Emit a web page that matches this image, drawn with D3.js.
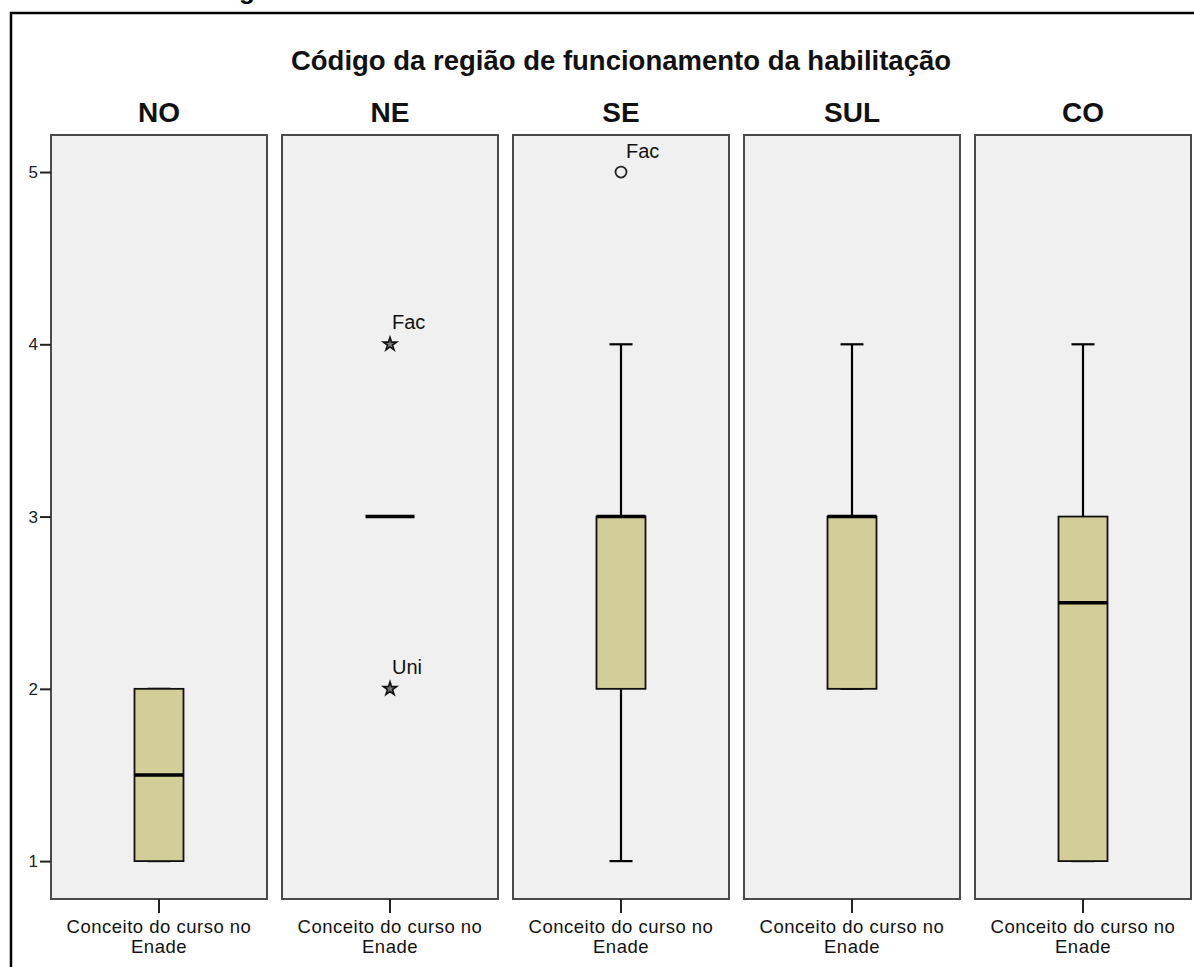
<!DOCTYPE html>
<html>
<head>
<meta charset="utf-8">
<script src="https://cdn.jsdelivr.net/npm/d3@7/dist/d3.min.js"></script>
<style>
  html, body { margin: 0; padding: 0; background: #fff; }
  svg { display: block; }
  text { font-family: "Liberation Sans", Arial, sans-serif; }
</style>
</head>
<body>
<svg id="chart" width="1194" height="967"></svg>
<script>
// Regions (panels) and the variable plotted in each
const regions = ["NO", "NE", "SE", "SUL", "CO"];
const variableLabel = ["Conceito do curso no", "Enade"];
const yTicks = [1, 2, 3, 4, 5];

// Five-number summaries per region
const whiskerLow  = [1, 3, 1, 2, 1];
const quartile1   = [1, 3, 2, 2, 1];
const medians     = [1.5, 3, 3, 3, 2.5];
const quartile3   = [2, 3, 3, 3, 3];
const whiskerHigh = [2, 3, 4, 4, 4];

// Outliers: region index, value, kind ("circle" = outlier, "star" = extreme), label
const outlierRegion = [1, 1, 2];
const outlierValue  = [4, 2, 5];
const outlierKind   = ["star", "star", "circle"];
const outlierLabel  = ["Fac", "Uni", "Fac"];

const svg = d3.select("#chart");

// Outer frame (extends past the right and bottom edges)
svg.append("rect")
  .attr("x", 11).attr("y", 13)
  .attr("width", 1200).attr("height", 1000)
  .attr("fill", "#fff").attr("stroke", "#000").attr("stroke-width", 2.5);

// Heading above the frame, mostly outside the drawing area
svg.append("text")
  .attr("x", 247).attr("y", -1)
  .attr("text-anchor", "middle")
  .attr("font-size", 26).attr("font-weight", "bold")
  .text("g");

const panelTop = 135, panelBottom = 899, panelW = 216, panelStep = 231, panelLeft0 = 51;

const y = d3.scaleLinear()
  .domain([0.78, 5.215])
  .range([panelBottom, panelTop]);

const xPanel = d3.scalePoint()
  .domain(regions)
  .range([panelLeft0, panelLeft0 + panelStep * (regions.length - 1)]);

// Overall title
svg.append("text")
  .attr("x", 621).attr("y", 70)
  .attr("text-anchor", "middle")
  .attr("font-size", 27.5).attr("font-weight", "bold")
  .attr("fill", "#111")
  .text("Código da região de funcionamento da habilitação");

const fill = "#d3ce97";
const boxW = 49, capW = 23;

regions.forEach((r, i) => {
  const x0 = xPanel(r);
  const w = panelW;
  const g = svg.append("g").attr("transform", `translate(${x0},0)`);
  const cx = w / 2;

  // Panel header
  svg.append("text")
    .attr("x", x0 + cx).attr("y", 122)
    .attr("text-anchor", "middle")
    .attr("font-size", 28).attr("font-weight", "bold")
    .attr("fill", "#111")
    .text(r);

  // Panel background
  g.append("rect")
    .attr("x", 0).attr("y", panelTop)
    .attr("width", w).attr("height", panelBottom - panelTop)
    .attr("fill", "#f0f0f0")
    .attr("stroke", "#4a4a4a").attr("stroke-width", 2);

  // Category axis at the bottom
  const xCat = d3.scaleBand().domain([variableLabel.join(" ")]).range([0, w]);
  const axB = g.append("g")
    .attr("transform", `translate(0,${panelBottom})`)
    .call(d3.axisBottom(xCat).tickSize(14).tickFormat(""));
  axB.select(".domain").remove();
  axB.selectAll(".tick line").attr("stroke", "#222").attr("stroke-width", 2);
  const lab = g.append("text")
    .attr("x", cx).attr("y", 933)
    .attr("text-anchor", "middle")
    .attr("font-size", 18.5).attr("letter-spacing", 0.5).attr("fill", "#111");
  variableLabel.forEach((t, k) => {
    lab.append("tspan").attr("x", cx).attr("dy", k === 0 ? 0 : 20).text(t);
  });

  // Whiskers
  const wl = whiskerLow[i], wh = whiskerHigh[i], q1 = quartile1[i], q3 = quartile3[i], md = medians[i];
  if (wh > q3) {
    g.append("line").attr("x1", cx).attr("x2", cx).attr("y1", y(q3)).attr("y2", y(wh))
      .attr("stroke", "#000").attr("stroke-width", 2.2);
  }
  if (wl < q1) {
    g.append("line").attr("x1", cx).attr("x2", cx).attr("y1", y(q1)).attr("y2", y(wl))
      .attr("stroke", "#000").attr("stroke-width", 2.2);
  }
  [wl, wh].forEach(v => {
    g.append("line")
      .attr("x1", cx - capW / 2).attr("x2", cx + capW / 2)
      .attr("y1", y(v)).attr("y2", y(v))
      .attr("stroke", "#000").attr("stroke-width", 2.2);
  });

  // Box
  if (q3 > q1) {
    g.append("rect")
      .attr("x", cx - boxW / 2).attr("y", y(q3))
      .attr("width", boxW).attr("height", y(q1) - y(q3))
      .attr("fill", fill).attr("stroke", "#111").attr("stroke-width", 1.8);
  }
  // Median
  g.append("line")
    .attr("x1", cx - boxW / 2).attr("x2", cx + boxW / 2)
    .attr("y1", y(md)).attr("y2", y(md))
    .attr("stroke", "#000").attr("stroke-width", 3.5);
});

// Value axis on the first panel
const axL = svg.append("g")
  .attr("transform", `translate(${panelLeft0},0)`)
  .call(d3.axisLeft(y).tickValues(yTicks).tickSize(11).tickPadding(2).tickFormat(d3.format("d")));
axL.select(".domain").remove();
axL.selectAll(".tick line").attr("stroke", "#222").attr("stroke-width", 2);
axL.selectAll(".tick text")
  .attr("font-size", 17).attr("fill", "#222")
  .attr("font-family", "Liberation Sans, Arial, sans-serif");

// Outliers
const star = d3.symbol().type(d3.symbolStar).size(55);
outlierValue.forEach((v, k) => {
  const r = regions[outlierRegion[k]];
  const cx = xPanel(r) + panelW / 2;
  const cy = y(v);
  if (outlierKind[k] === "star") {
    svg.append("path")
      .attr("d", star())
      .attr("transform", `translate(${cx},${cy})`)
      .attr("fill", "#777").attr("stroke", "#111").attr("stroke-width", 1.6);
    svg.append("text")
      .attr("x", cx + 2).attr("y", cy - 15)
      .attr("font-size", 20).attr("fill", "#111")
      .text(outlierLabel[k]);
  } else {
    svg.append("circle")
      .attr("cx", cx).attr("cy", cy).attr("r", 5.5)
      .attr("fill", "none").attr("stroke", "#222").attr("stroke-width", 1.8);
    svg.append("text")
      .attr("x", cx + 5).attr("y", cy - 14)
      .attr("font-size", 20).attr("fill", "#111")
      .text(outlierLabel[k]);
  }
});
</script>
</body>
</html>
